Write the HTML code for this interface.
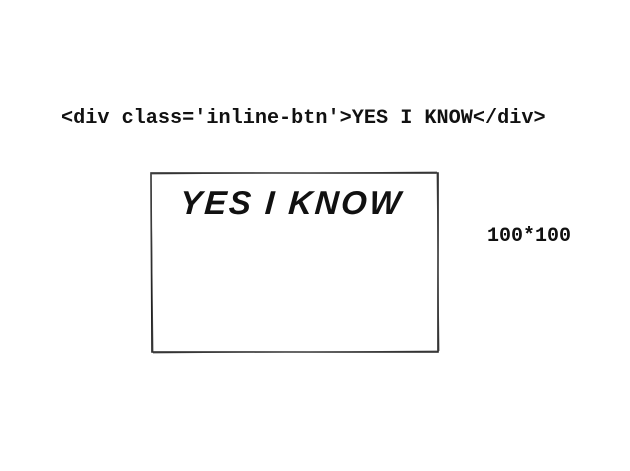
<!DOCTYPE html>
<html><head><meta charset="utf-8"><style>
html,body{margin:0;padding:0;background:#fff;}
body{width:630px;height:471px;position:relative;overflow:hidden;}
.code{position:absolute;left:61px;top:106px;font-family:"Liberation Mono",monospace;font-size:20.2px;font-weight:bold;line-height:26px;color:#111;white-space:pre;}
.size{position:absolute;left:487px;top:225px;font-family:"Liberation Mono",monospace;font-size:20px;font-weight:bold;line-height:24px;color:#111;}
.hand{position:absolute;left:180px;top:185px;font-family:"Liberation Sans",sans-serif;font-weight:bold;font-style:italic;font-size:33px;line-height:36px;letter-spacing:2.5px;color:#111;transform:skewX(-4deg);}
</style></head><body>
<div class="code">&lt;div class='inline-btn'&gt;YES I KNOW&lt;/div&gt;</div>
<svg width="630" height="471" style="position:absolute;left:0;top:0">
<path d="M151 173 L438 173 L438 352 L152 352 Z" fill="none" stroke="#222" stroke-width="1.6"/>
<path d="M152 174 L437 172 M437 174 L439 351 M437 351 L153 353 M153 352 L151 173" fill="none" stroke="#444" stroke-width="0.8"/>
</svg>
<div class="hand">YES I KNOW</div>
<div class="size">100*100</div>
</body></html>
